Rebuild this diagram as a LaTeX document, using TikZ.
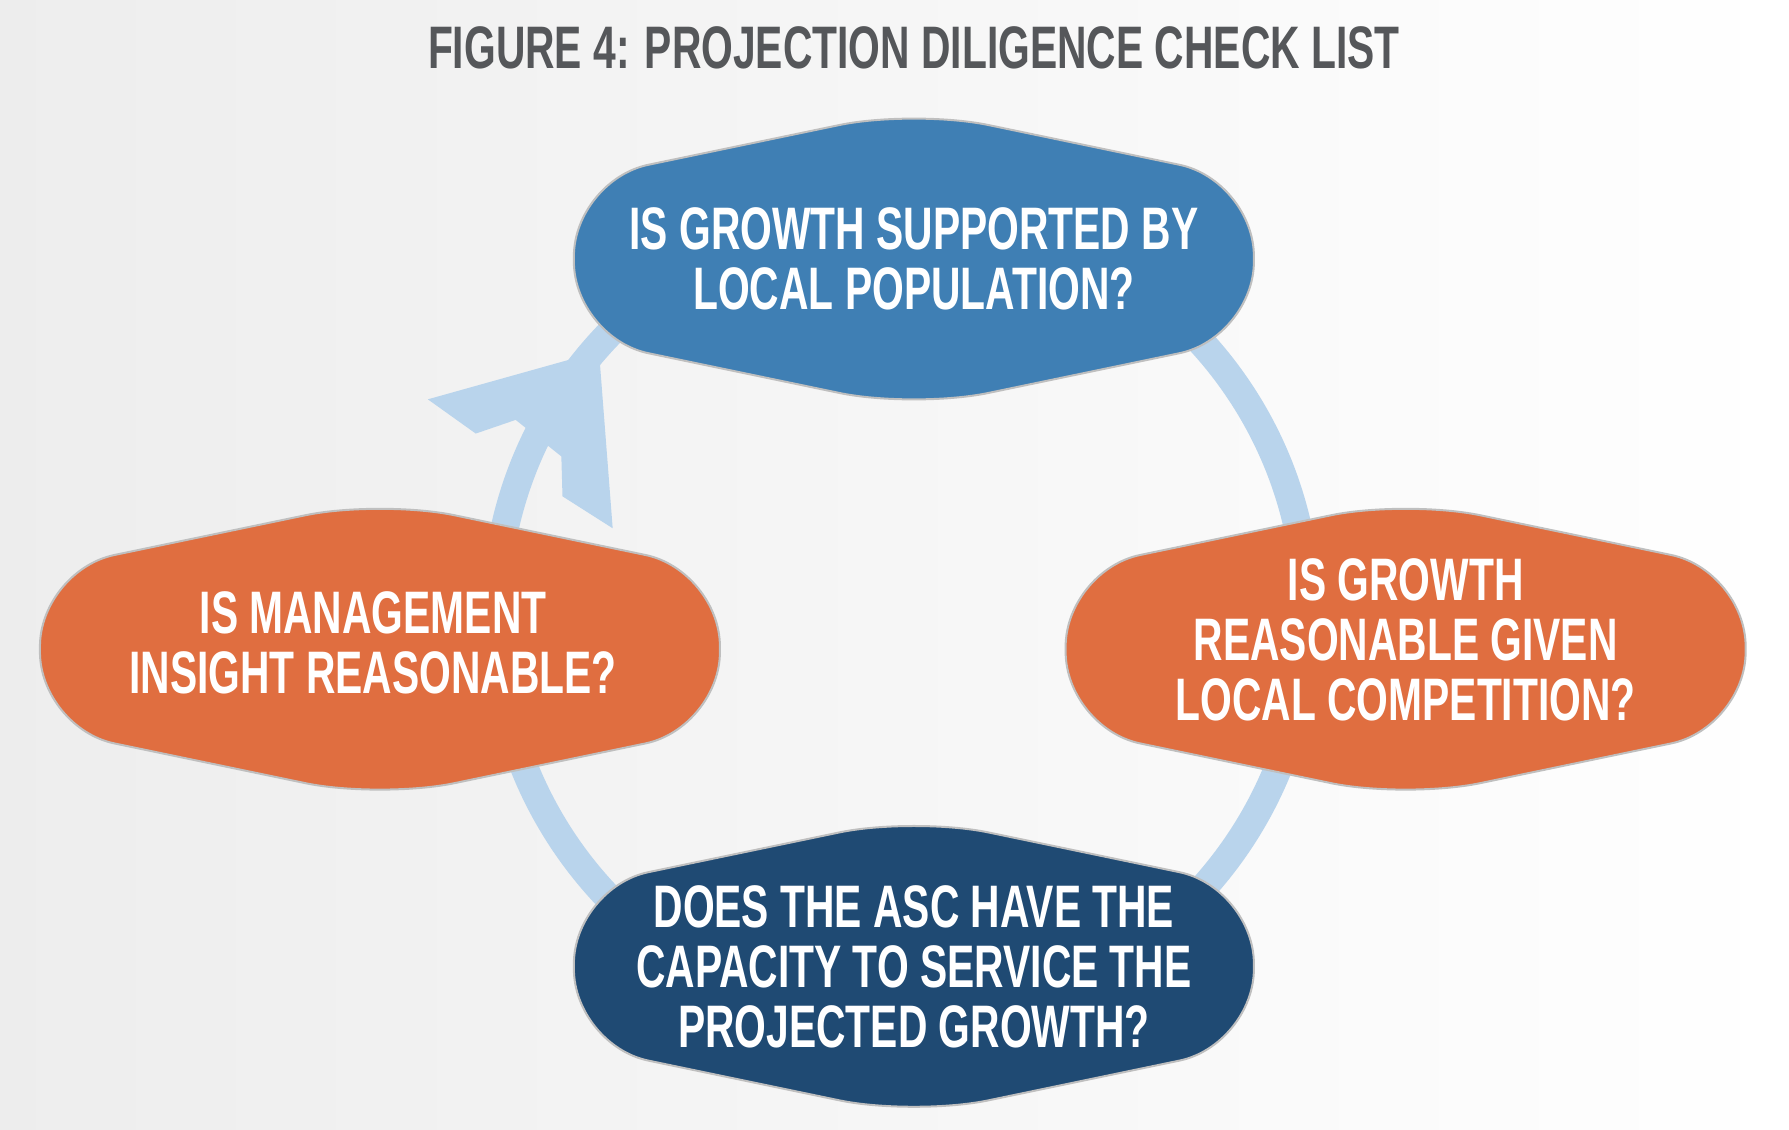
\documentclass[tikz,border=0pt]{standalone}
\usepackage{fontspec}
\setmainfont{Liberation Sans}[FakeStretch=0.68]
\usepackage{tikz}

\definecolor{cycleblue}{HTML}{B9D4EC}
\definecolor{topblue}{HTML}{3F7FB4}
\definecolor{darkblue}{HTML}{1F4A73}
\definecolor{qorange}{HTML}{E06E40}
\definecolor{titlegray}{HTML}{55575A}

\tikzset{
  question/.style={text=white, font=\bfseries\fontsize{30}{30}\selectfont, align=center},
  hexfill/.style={rounded corners=38, draw=black!25, line width=1}
}

% hexagon badge around a centre point
\newcommand{\hexbadge}[3]{%
  \fill[#3, hexfill] (#1,#2) ++(0,-131) -- ++(298,62) -- ++(0,138) -- ++(-298,62)
    -- ++(-298,-62) -- ++(0,-138) -- cycle;}

\begin{document}
\begin{tikzpicture}[x=0.5705pt, y=-0.5705pt]
  \useasboundingbox (0,0) rectangle (1568,990.4);
  \shade[left color=black!7, right color=white] (0,0) rectangle (1568,990.4);

  % cycle
  \coordinate (hub) at (790,540);
  \draw[cycleblue, line width=14pt] (hub) circle (356);
  \fill[cycleblue] (525,308) -- (375,350) -- (417,380) -- (452,368)
    -- (492,400) -- (493,435) -- (537,463) -- cycle;

  \node[text=titlegray, font=\bfseries\fontsize{30}{30}\selectfont] (title) at (801,42)
    {FIGURE 4: PROJECTION DILIGENCE CHECK LIST};

  \hexbadge{801}{227}{topblue}
  \node[question] (growth) at (801,227) {IS GROWTH SUPPORTED BY\\LOCAL POPULATION?};

  \hexbadge{1232}{569}{qorange}
  \node[question] (compet) at (1232,561) {IS GROWTH\\REASONABLE GIVEN\\LOCAL COMPETITION?};

  \hexbadge{333}{569}{qorange}
  \node[question] (insight) at (327,563) {IS MANAGEMENT\\INSIGHT REASONABLE?};

  \hexbadge{801}{847}{darkblue}
  \node[question] (capacity) at (801,847) {DOES THE ASC HAVE THE\\CAPACITY TO SERVICE THE\\PROJECTED GROWTH?};
\end{tikzpicture}
\end{document}
